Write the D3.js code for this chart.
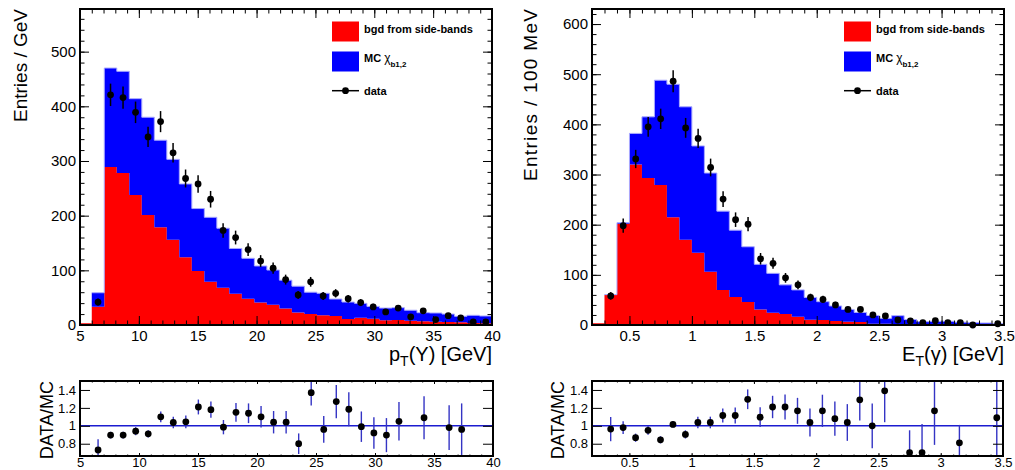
<!DOCTYPE html>
<html>
<head>
<meta charset="utf-8">
<script src="https://cdn.jsdelivr.net/npm/d3@7"></script>
<style>
body { margin: 0; background: #fff; }
svg { display: block; }
text { font-family: "Liberation Sans", Arial, Helvetica, sans-serif; }
</style>
</head>
<body>
<svg id="chart" width="1015" height="470"></svg>
<script>
// binning of the two histograms (32 bins each)
var ptLo = 6, ptHi = 40, ptN = 32;
var etLo = 0.3, etHi = 3.5, etN = 32;

// pT(Upsilon) panel
var ptBgd = [33.5, 289, 278, 238, 201, 179, 156, 124, 99, 79, 68, 57, 48, 41, 37, 30,
    23, 20, 17.7, 16.5, 11, 13.4, 11.6, 8.5, 9, 8, 6.7, 6, 5.5, 5, 3.7, 3];
var ptMC = [25.5, 181, 186, 176, 179, 159, 147, 134, 114, 118, 109, 83, 74, 67, 63.5, 52,
    48, 40, 40.3, 31, 31, 26.2, 22.4, 22.5, 22.7, 19, 15.8, 16, 14.5, 11, 14, 13.5];
var ptData = [42, 421, 416, 389, 344, 372, 315, 268, 258, 230, 173, 160, 138, 117, 104, 83,
    55, 79, 53, 58, 48, 41, 33, 24, 31, 15, 26, 10, 17, 13, 5.5, 5.5];
var ptErr = [6.5, 20.5, 20.4, 19.7, 18.5, 19.3, 17.7, 16.4, 16.1, 15.2, 13.2, 12.6, 11.7, 10.8, 10.2, 9.1,
    7.4, 8.9, 7.3, 7.6, 6.9, 6.4, 5.7, 4.9, 5.6, 3.9, 5.1, 3.2, 4.1, 3.6, 2.3, 2.3];
var ptRatio = [0.73, 0.896, 0.896, 0.94, 0.91, 1.10, 1.037, 1.044, 1.21, 1.18, 0.985, 1.15, 1.14, 1.10, 1.04, 1.04,
    0.80, 1.37, 0.96, 1.27, 1.185, 0.99, 0.92, 0.896, 1.05, null, 1.09, null, 0.98, 0.96, null, null];
var ptRatioErr = [0.12, 0.037, 0.037, 0.045, 0.04, 0.06, 0.065, 0.07, 0.083, 0.09, 0.08, 0.105, 0.11, 0.12, 0.125, 0.125,
    0.115, 0.143, 0.15, 0.185, 0.19, 0.17, 0.175, 0.19, 0.215, null, 0.24, null, 0.25, 0.29, null, null];

// ET(gamma) panel
var etBgd = [60, 202, 320, 293, 279, 215, 170, 144, 106, 70, 56, 46, 31, 24.6, 22, 16.6,
    10.6, 10, 8, 6.6, 6, 2.7, 2.7, 2, 2, 1.5, 1.5, 1.2, 1.2, 1, 1, 1];
var etMC = [0.5, 2, 62, 122, 209, 265, 265, 213, 197, 157, 133, 110, 90, 78.4, 58, 53.4,
    44.4, 36.5, 30, 24.4, 19, 16.3, 10.6, 16.6, 9, 5.1, 5.9, 6.3, 4.5, 3.6, 3, 2];
var etData = [58, 198, 331, 395, 411, 486, 393, 372, 314, 251, 210, 201, 132, 123, 94, 80,
    55, 51, 40, 31, 31, 20, 18, 10, 8, 4.6, 8.6, 4.6, 4.6, 0, null, 2.5];
var etErr = [7.6, 14.1, 18.2, 19.9, 20.3, 22, 19.8, 19.3, 17.7, 15.8, 14.5, 14.2, 11.5, 11.1, 9.7, 8.9,
    7.4, 7.1, 6.3, 5.6, 5.6, 4.5, 4.2, 3.2, 2.8, 2.1, 2.9, 2.1, 2.1, 0, null, 1.6];
var etRatio = [0.963, 0.98, 0.867, 0.95, 0.844, 1.015, 0.904, 1.037, 1.037, 1.115, 1.115, 1.296, 1.096, 1.21, 1.21, 1.167,
    1.037, 1.167, 1.08, 1.037, 1.29, 1.0, 1.39, null, 0.70, 0.70, 1.167, null, 0.81, null, null, 1.09];
var etRatioErr = [0.135, 0.072, 0.046, 0.05, 0.04, 0.035, 0.046, 0.065, 0.065, 0.078, 0.09, 0.11, 0.11, 0.125, 0.14, 0.145,
    0.155, 0.18, 0.19, 0.205, 0.23, 0.25, 0.35, null, 0.25, 0.32, 0.38, null, 0.2, null, null, 0.6];

// tick labels
var ptTicks = [5, 10, 15, 20, 25, 30, 35, 40];
var ptCountTicks = [0, 100, 200, 300, 400, 500];
var etTicks = [0.5, 1, 1.5, 2, 2.5, 3, 3.5];
var etCountTicks = [0, 100, 200, 300, 400, 500, 600];
var ratioTicks = [0.8, 1, 1.2, 1.4];

var svg = d3.select("#chart");

function edgesOf(lo, hi, n) {
    return d3.range(n + 1).map(function (i) { return lo + i * (hi - lo) / n; });
}

// axes with ROOT style inner ticks on all four sides
function frameAxes(g, x, y, cfg) {
    function put(axis, tr) {
        var a = g.append("g").attr("transform", tr).call(axis);
        a.select(".domain").remove();
        a.selectAll("line").attr("stroke", "#000").attr("stroke-width", 1);
        a.selectAll("text").attr("font-size", null).attr("font-family", null)
            .style("font-size", cfg.labelSize + "px").attr("fill", "#000");
        a.attr("font-family", null).attr("font-size", null);
        return a;
    }
    var fmt = function (d) { return String(d); };
    var none = function () { return ""; };
    put(d3.axisBottom(x).tickValues(cfg.xMajor).tickSize(-cfg.xLen).tickPadding(cfg.xPad).tickFormat(fmt), "translate(0," + cfg.bottom + ")");
    put(d3.axisBottom(x).tickValues(cfg.xMinor).tickSize(-cfg.xLen / 2).tickFormat(none), "translate(0," + cfg.bottom + ")");
    put(d3.axisTop(x).tickValues(cfg.xMajor).tickSize(-cfg.xLen).tickFormat(none), "translate(0," + cfg.top + ")");
    put(d3.axisTop(x).tickValues(cfg.xMinor).tickSize(-cfg.xLen / 2).tickFormat(none), "translate(0," + cfg.top + ")");
    put(d3.axisLeft(y).tickValues(cfg.yMajor).tickSize(-cfg.yLen).tickPadding(cfg.yPad).tickFormat(fmt), "translate(" + cfg.left + ",0)");
    put(d3.axisRight(y).tickValues(cfg.yMajor).tickSize(-cfg.yLen).tickFormat(none), "translate(" + cfg.right + ",0)");
    if (cfg.yMinor) {
        put(d3.axisLeft(y).tickValues(cfg.yMinor).tickSize(-cfg.yLen / 2).tickFormat(none), "translate(" + cfg.left + ",0)");
        put(d3.axisRight(y).tickValues(cfg.yMinor).tickSize(-cfg.yLen / 2).tickFormat(none), "translate(" + cfg.right + ",0)");
    }
    // the frame
    g.append("rect").attr("x", cfg.left).attr("y", cfg.top)
        .attr("width", cfg.right - cfg.left).attr("height", cfg.bottom - cfg.top)
        .attr("fill", "none").attr("stroke", "#000").attr("stroke-width", 2);
}

function mainPanel(cfg) {
    var g = svg.append("g");
    var x = d3.scaleLinear().domain(cfg.xDomain).range([cfg.left, cfg.right]);
    var y = d3.scaleLinear().domain(cfg.yDomain).range([cfg.bottom, cfg.top]);
    var edges = edgesOf(cfg.lo, cfg.hi, cfg.n);

    // stacked histogram: background first, MC on top
    var rows = cfg.bgd.map(function (b, i) { return { x0: edges[i], bgd: b, mc: cfg.mc[i] }; });
    var series = d3.stack().keys(["bgd", "mc"])(rows);
    var colors = { bgd: "#ff0000", mc: "#0000ff" };
    var area = d3.area().curve(d3.curveStepAfter)
        .x(function (d) { return x(d.x); })
        .y0(function (d) { return y(d.y0); })
        .y1(function (d) { return y(d.y1); });
    series.forEach(function (s) {
        var pts = s.map(function (d) { return { x: d.data.x0, y0: d[0], y1: d[1] }; });
        var last = pts[pts.length - 1];
        pts.push({ x: edges[edges.length - 1], y0: last.y0, y1: last.y1 });
        g.append("path").attr("d", area(pts)).attr("fill", colors[s.key]);
        if (s.key === "mc") {
            var line = d3.line().curve(d3.curveStepAfter)
                .x(function (d) { return x(d.x); })
                .y(function (d) { return y(d.y1); });
            g.append("path").attr("d", line(pts)).attr("fill", "none")
                .attr("stroke", "#a9a9ff").attr("stroke-width", 1);
        }
    });
    // underflow region drawn as a thin red line on the axis
    g.append("line").attr("x1", x(cfg.xDomain[0])).attr("x2", x(cfg.lo))
        .attr("y1", y(0) - 1).attr("y2", y(0) - 1).attr("stroke", "#ff0000").attr("stroke-width", 1.5);

    // data points with errors
    var pts = cfg.data.map(function (v, i) {
        return { c: (edges[i] + edges[i + 1]) / 2, v: v, e: cfg.err[i] };
    }).filter(function (d) { return d.v !== null; });
    g.append("g").selectAll("line").data(pts).enter().append("line")
        .attr("x1", function (d) { return x(d.c); }).attr("x2", function (d) { return x(d.c); })
        .attr("y1", function (d) { return y(d.v - d.e); }).attr("y2", function (d) { return y(d.v + d.e); })
        .attr("stroke", "#000").attr("stroke-width", 1.5);
    g.append("g").selectAll("circle").data(pts).enter().append("circle")
        .attr("cx", function (d) { return x(d.c); }).attr("cy", function (d) { return y(d.v); })
        .attr("r", 3.4).attr("fill", "#000");

    frameAxes(g, x, y, cfg);

    // legend
    var lx = cfg.left + 252;
    var lg = g.append("g").attr("font-weight", "bold").style("font-size", "11px");
    lg.append("rect").attr("x", lx).attr("y", 21.5).attr("width", 27).attr("height", 20).attr("fill", "#ff0000");
    lg.append("rect").attr("x", lx).attr("y", 51.5).attr("width", 27).attr("height", 20).attr("fill", "#0000ff");
    lg.append("line").attr("x1", lx).attr("x2", lx + 27).attr("y1", 90.7).attr("y2", 90.7)
        .attr("stroke", "#000").attr("stroke-width", 1.5);
    lg.append("circle").attr("cx", lx + 13.5).attr("cy", 90.7).attr("r", 3.4).attr("fill", "#000");
    lg.append("text").attr("x", lx + 32).attr("y", 32.8).text("bgd from side-bands");
    var mc = lg.append("text").attr("x", lx + 32).attr("y", 62);
    mc.append("tspan").text("MC ");
    mc.append("tspan").attr("font-weight", "normal").style("font-size", "12px").text("\u03c7");
    mc.append("tspan").attr("dy", 5).style("font-size", "8px").text("b1,2");
    lg.append("text").attr("x", lx + 32).attr("y", 94.5).text("data");

    // axis titles
    var yt = g.append("text").attr("transform", "translate(" + cfg.yTitleX + "," + cfg.top + ") rotate(-90)")
        .attr("text-anchor", "end").style("font-size", "19px").text(cfg.yTitle);
    if (cfg.yTitleLen) yt.attr("textLength", cfg.yTitleLen).attr("lengthAdjust", "spacing");
    var xt = g.append("text").attr("x", cfg.right).attr("y", 361)
        .attr("text-anchor", "end").style("font-size", "20px");
    xt.append("tspan").text(cfg.xTitle[0]);
    xt.append("tspan").attr("dy", 5).style("font-size", "14px").text("T");
    xt.append("tspan").attr("dy", -5).text(cfg.xTitle[1]);
}

function ratioPanel(cfg) {
    var g = svg.append("g");
    var x = d3.scaleLinear().domain(cfg.xDomain).range([cfg.left, cfg.right]);
    var y = d3.scaleLinear().domain(cfg.yDomain).range([cfg.bottom, cfg.top]);
    var edges = edgesOf(cfg.lo, cfg.hi, cfg.n);
    var clipId = "clip" + cfg.left;
    g.append("clipPath").attr("id", clipId).append("rect")
        .attr("x", cfg.left).attr("y", cfg.top)
        .attr("width", cfg.right - cfg.left).attr("height", cfg.bottom - cfg.top);
    var inner = g.append("g").attr("clip-path", "url(#" + clipId + ")");

    inner.append("line").attr("x1", cfg.left).attr("x2", cfg.right)
        .attr("y1", y(1)).attr("y2", y(1)).attr("stroke", "#1c1cd0").attr("stroke-width", 1.6);

    var pts = cfg.ratio.map(function (v, i) {
        return { c: (edges[i] + edges[i + 1]) / 2, v: v, e: cfg.err[i] };
    }).filter(function (d) { return d.v !== null; });
    inner.append("g").selectAll("line").data(pts).enter().append("line")
        .attr("x1", function (d) { return x(d.c); }).attr("x2", function (d) { return x(d.c); })
        .attr("y1", function (d) { return y(d.v - d.e); }).attr("y2", function (d) { return y(d.v + d.e); })
        .attr("stroke", "#3434c4").attr("stroke-width", 1.4);
    inner.append("g").selectAll("circle").data(pts).enter().append("circle")
        .attr("cx", function (d) { return x(d.c); }).attr("cy", function (d) { return y(d.v); })
        .attr("r", 3.4).attr("fill", "#000");

    frameAxes(g, x, y, cfg);

    g.append("text").attr("transform", "translate(" + cfg.yTitleX + "," + cfg.top + ") rotate(-90)")
        .attr("text-anchor", "end").style("font-size", "18px").text("DATA/MC");
}

var pMinor = d3.range(5, 41, 1);
var eMinor = d3.range(2, 36).map(function (v) { return v / 10; });

mainPanel({
    left: 80, right: 492, top: 9, bottom: 325, xDomain: [5, 40], yDomain: [0, 578],
    lo: ptLo, hi: ptHi, n: ptN, bgd: ptBgd, mc: ptMC, data: ptData, err: ptErr,
    xMajor: ptTicks, xMinor: pMinor, yMajor: ptCountTicks, yMinor: d3.range(0, 578, 20),
    xLen: 9, yLen: 9, xPad: 5, yPad: 4, labelSize: 15,
    yTitle: "Entries / GeV", yTitleX: 27, xTitle: ["p", "(\u03a5) [GeV]"]
});
mainPanel({
    left: 592, right: 1004, top: 9, bottom: 325, xDomain: [0.2, 3.5], yDomain: [0, 630],
    lo: etLo, hi: etHi, n: etN, bgd: etBgd, mc: etMC, data: etData, err: etErr,
    xMajor: etTicks, xMinor: eMinor, yMajor: etCountTicks, yMinor: d3.range(0, 630, 20),
    xLen: 9, yLen: 9, xPad: 5, yPad: 4, labelSize: 15,
    yTitle: "Entries / 100 MeV", yTitleX: 537, yTitleLen: 172, xTitle: ["E", "(\u03b3) [GeV]"]
});
ratioPanel({
    left: 80, right: 493, top: 381, bottom: 456, xDomain: [5, 40], yDomain: [0.663, 1.5],
    lo: ptLo, hi: ptHi, n: ptN, ratio: ptRatio, err: ptRatioErr,
    xMajor: ptTicks, xMinor: pMinor, yMajor: ratioTicks,
    xLen: 3, yLen: 10, xPad: 2, yPad: 4, labelSize: 13, yTitleX: 53
});
ratioPanel({
    left: 592, right: 1003, top: 381, bottom: 456, xDomain: [0.2, 3.5], yDomain: [0.663, 1.5],
    lo: etLo, hi: etHi, n: etN, ratio: etRatio, err: etRatioErr,
    xMajor: etTicks, xMinor: eMinor, yMajor: ratioTicks,
    xLen: 3, yLen: 10, xPad: 2, yPad: 4, labelSize: 13, yTitleX: 564
});
</script>
</body>
</html>
